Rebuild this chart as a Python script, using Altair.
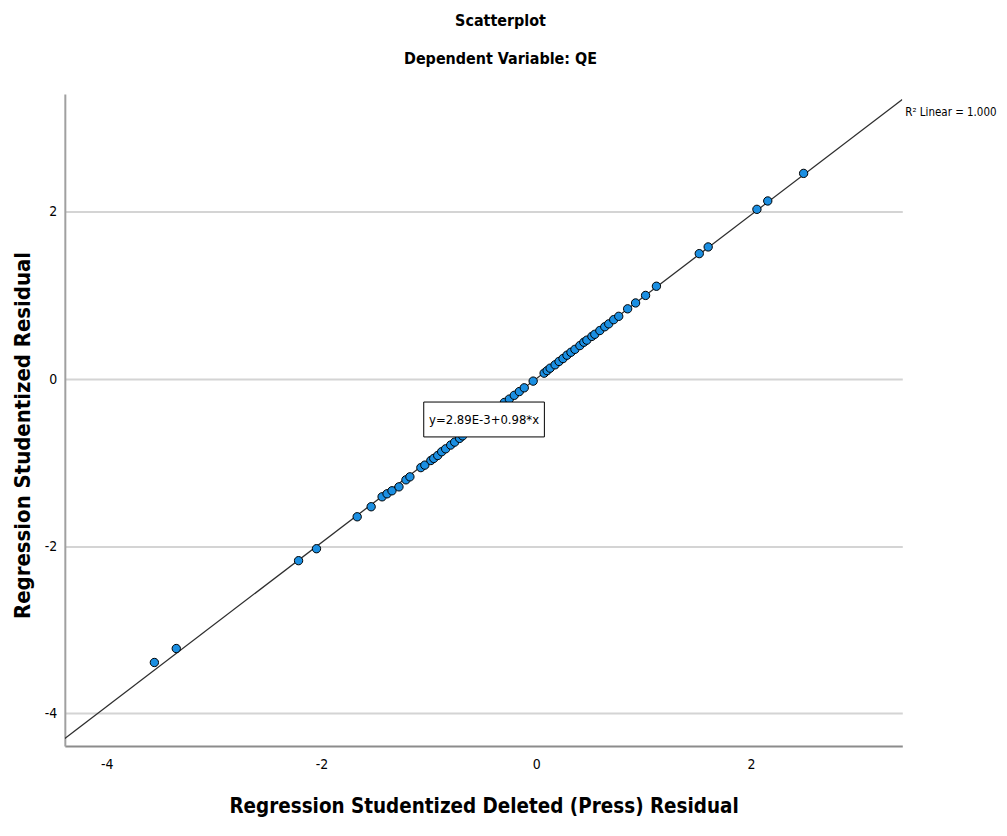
import altair as alt
import pandas as pd

# Regression Studentized Deleted (Press) Residual
deleted_resid = [
    -3.556, -3.352, -2.213, -2.046, -1.667, -1.537, -1.435, -1.389, -1.343, -1.278,
    -1.213, -1.176, -1.074, -1.037, -0.981, -0.954, -0.917, -0.880, -0.843, -0.796,
    -0.759, -0.713, -0.685, -0.639, -0.583, -0.528, -0.472, -0.417, -0.361,
    -0.296, -0.250, -0.204, -0.157, -0.111, -0.028, 0.074, 0.102, 0.130, 0.176,
    0.213, 0.250, 0.287, 0.324, 0.361, 0.407, 0.444, 0.472, 0.519, 0.546,
    0.593, 0.639, 0.676, 0.722, 0.769, 0.852, 0.926, 1.019, 1.120, 1.519,
    1.602, 2.056, 2.157, 2.491,
]
# Regression Studentized Residual
student_resid = [
    -3.391, -3.224, -2.173, -2.030, -1.648, -1.528, -1.409, -1.373, -1.337, -1.290,
    -1.206, -1.170, -1.060, -1.030, -0.975, -0.950, -0.915, -0.870, -0.835, -0.790,
    -0.755, -0.710, -0.680, -0.630, -0.575, -0.520, -0.465, -0.410, -0.355,
    -0.280, -0.240, -0.195, -0.150, -0.105, -0.025, 0.070, 0.100, 0.130, 0.170,
    0.210, 0.245, 0.285, 0.320, 0.355, 0.400, 0.440, 0.465, 0.510, 0.535,
    0.580, 0.625, 0.660, 0.710, 0.750, 0.840, 0.910, 1.000, 1.110, 1.500,
    1.580, 2.030, 2.130, 2.460,
]

axis_ticks = [-4, -2, 0, 2]
axis_domain = [-4.39, 3.41]
fit_x = [-4.39, 3.41]
fit_intercept = 2.89e-3
fit_slope = 0.98
fit_label = "y=2.89E-3+0.98*x"
r2_label = "R\u00b2 Linear = 1.000"

FONT = "DejaVu Sans Condensed, Liberation Sans, sans-serif"
LABEL_EXPR = "datum.value + ''"

pts = pd.DataFrame({"x": deleted_resid, "y": student_resid})
fit = pd.DataFrame({"x": fit_x})

xs = alt.Scale(domain=axis_domain, nice=False, zero=False)
ys = alt.Scale(domain=axis_domain, nice=False, zero=False)

x_axis = alt.Axis(
    values=axis_ticks, grid=False, ticks=False, labelPadding=12,
    labelExpr=LABEL_EXPR,
    labelFontSize=14, labelFont=FONT, labelColor="#000000",
    domainColor="#8c8c8c", domainWidth=2,
    title="Regression Studentized Deleted (Press) Residual",
    titleFont=FONT, titleFontSize=20.5, titleFontWeight="bold",
    titleColor="#000000", titlePadding=25,
)
y_axis = alt.Axis(
    values=axis_ticks, grid=True, gridColor="#d4d4d4", gridWidth=2,
    ticks=False, labelPadding=8, labelExpr=LABEL_EXPR,
    labelFontSize=14, labelFont=FONT, labelColor="#000000",
    domainColor="#a0a0a0", domainWidth=2,
    title="Regression Studentized Residual",
    titleFont=FONT, titleFontSize=22, titleFontWeight="bold",
    titleColor="#000000", titlePadding=10, titleY=342,
)

line = alt.Chart(fit).transform_calculate(
    y=f"{fit_intercept} + {fit_slope} * datum.x"
).mark_line(color="#2e2e2e", strokeWidth=1.3, clip=True).encode(
    x=alt.X("x:Q", scale=xs, axis=x_axis),
    y=alt.Y("y:Q", scale=ys, axis=y_axis),
)

points = alt.Chart(pts).mark_point(
    shape="circle", filled=True, fill="#1b8fe2", stroke="#000000",
    strokeWidth=1, size=70, opacity=1,
).encode(
    x=alt.X("x:Q", scale=xs),
    y=alt.Y("y:Q", scale=ys),
)

box = alt.Chart(pd.DataFrame({"t": [fit_label]})).mark_rect(
    fill="#ffffff", stroke="#000000", strokeWidth=1,
).encode(
    x=alt.value(360), x2=alt.value(481), y=alt.value(309), y2=alt.value(344),
)

box_text = alt.Chart(pd.DataFrame({"t": [fit_label]})).mark_text(
    font=FONT, fontSize=13, color="#000000", align="center", baseline="middle",
).encode(text="t:N", x=alt.value(420.5), y=alt.value(327))

r2_text = alt.Chart(pd.DataFrame({"t": [r2_label]})).mark_text(
    font=FONT, fontSize=11.5, color="#000000", align="left", baseline="middle",
).encode(text="t:N", x=alt.value(843), y=alt.value(19))

chart = alt.layer(line, points, box, box_text, r2_text).properties(
    width=840, height=654,
    autosize=alt.AutoSizeParams(type="none"),
    padding={"left": 57, "top": 85, "right": 97, "bottom": 75},
    background="#ffffff",
    title=alt.TitleParams(
        text="Scatterplot", subtitle="Dependent Variable: QE",
        font=FONT, fontSize=16, fontWeight="bold", color="#000000",
        subtitleFont=FONT, subtitleFontSize=16, subtitleFontWeight="bold",
        subtitleColor="#000000", subtitlePadding=22,
        anchor="middle", dx=17, offset=27,
    ),
).configure_view(strokeWidth=0, stroke="transparent")

chart.save("out.html", embed_options={"renderer": "svg", "actions": False})
